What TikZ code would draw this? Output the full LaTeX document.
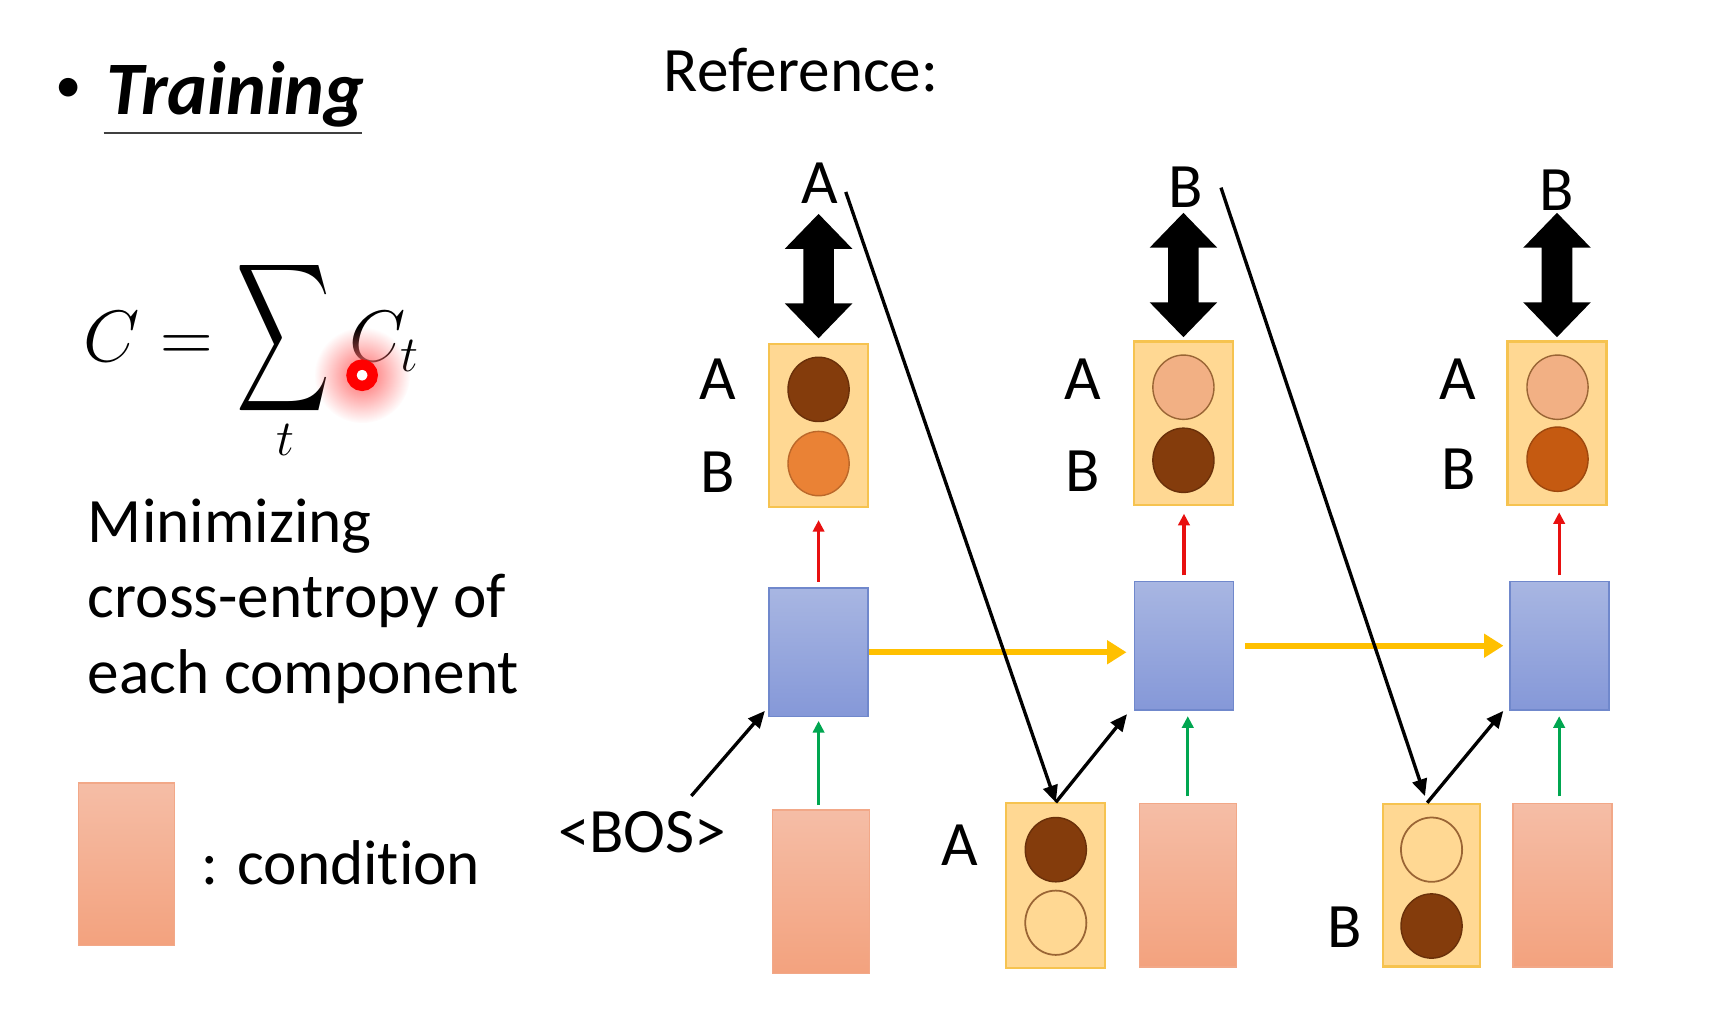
\documentclass[tikz,border=0pt]{standalone}
\usepackage{fontspec}
\setmainfont{Carlito}[Ligatures=NoCommon]
\usepackage{graphicx}
\usetikzlibrary{arrows.meta,calc,shapes.geometric,fadings}

\definecolor{boxY}{HTML}{FFD893}
\definecolor{boxYedge}{HTML}{F6C350}
\definecolor{blueT}{HTML}{A8B6E2}
\definecolor{blueB}{HTML}{8598D8}
\definecolor{blueEdge}{HTML}{7088CC}
\definecolor{pinkT}{HTML}{F5BDA6}
\definecolor{pinkB}{HTML}{F3A27E}
\definecolor{pinkEdge}{HTML}{F2A888}
\definecolor{darkbrown}{HTML}{843C0C}
\definecolor{orangeC}{HTML}{EA8235}
\definecolor{lightC}{HTML}{F2B084}
\definecolor{midC}{HTML}{C55A11}
\definecolor{circEdge}{HTML}{9A6535}
\definecolor{arrowY}{HTML}{FFC000}
\definecolor{arrowR}{HTML}{E81010}
\definecolor{arrowG}{HTML}{00A650}

\tikzfading[name=glowfade, inner color=transparent!0, outer color=transparent!100]

\newcommand\bigdarrow[1]{%
  \fill[black] (#1) -- ++(-31,-32) -- ++(17,0) -- ++(0,-50) -- ++(-17,0)
    -- ++(31,-32) -- ++(31,32) -- ++(-17,0) -- ++(0,50) -- ++(17,0) -- cycle;}

\begin{document}
\begin{tikzpicture}[x=0.010905cm,y=-0.010905cm,
  txt/.style={font=\fontsize{18}{22}\selectfont, inner sep=0pt},
  mth/.style={font=\fontsize{20.5}{24}\selectfont, inner sep=0pt},
  outbox/.style={draw=boxYedge, fill=boxY, line width=0.6pt, minimum width=28.2pt, minimum height=46.5pt, inner sep=0pt},
  rnn/.style={draw=blueEdge, top color=blueT, bottom color=blueB, line width=0.5pt, minimum width=28.2pt, minimum height=36.6pt, inner sep=0pt},
  cond/.style={draw=pinkEdge, top color=pinkT, bottom color=pinkB, line width=0.4pt, minimum width=27.6pt, minimum height=46.5pt, inner sep=0pt},
  ball/.style={ellipse, minimum width=17.4pt, minimum height=18.3pt, inner sep=0pt, line width=0.4pt},
  emptyball/.style={ball, draw=circEdge, line width=0.5pt},
  blkarrow/.style={draw=black, line width=0.95pt, -{Triangle[length=4.8pt,width=4.2pt]}},
  yarrow/.style={draw=arrowY, line width=1.8pt, -{Triangle[length=5.5pt,width=6.5pt]}},
  rarrow/.style={draw=arrowR, line width=0.95pt, -{Triangle[length=3.3pt,width=3.2pt]}},
  garrow/.style={draw=arrowG, line width=0.95pt, -{Triangle[length=3.3pt,width=3.2pt]}}
]
\useasboundingbox[fill=white] (0,0) rectangle (1567.8,948.0);

% ---------- left column text ----------
\node[txt, font=\fontsize{15}{18}\selectfont] (bul) at (63,83) {•};
\node[anchor=base west, inner sep=0pt, font=\fontsize{21.5}{24}\selectfont\bfseries\itshape] (trn) at (97,105) {Training};
\draw[line width=0.8pt, draw=black!75] ($(trn.base west)+(-2,17)$) -- ($(trn.base east)+(-3,17)$);

\node[txt, anchor=base west] (ref) at (608,84) {Reference:};

% formula
\node[mth, anchor=base] (fC) at (102,331) {$C$};
\node[mth, anchor=base] (feq) at (171,331) {$=$};
\node[inner sep=0pt] (fsum) at (260,310) {\scalebox{1.85}[2.95]{$\displaystyle\sum$}};
\node[mth, anchor=base, font=\fontsize{15}{18}\selectfont] (ft) at (262,418) {$t$};
\node[mth, anchor=base west] (fCt) at (320,331) {$C_t$};
% pointer dot
\coordinate (rd) at (332,344);
\fill[red!60, path fading=glowfade] (rd) circle (44);
\fill[white] (rd) circle (5);
\draw[red, line width=2.9pt] (rd) circle (9.8);

\node[txt, anchor=base west] (m1) at (80,497) {Minimizing};
\node[txt, anchor=base west] (m2) at (80,566) {cross-entropy of};
\node[txt, anchor=base west] (m3) at (80,636) {each component};

\node[cond, minimum width=27.3pt, minimum height=46.3pt] (leg) at (116,792.5) {};
\node[txt, anchor=base west] (legt) at (184,811) {: condition};

\node[txt, anchor=base west] (bos) at (511,782) {<BOS>};

% ---------- column 1 ----------
\node[outbox] (o1) at (750.5,390) {};
\node[ball, fill=darkbrown, draw=darkbrown!80!black] (o1a) at (750.5,357) {};
\node[ball, fill=orangeC, draw=orangeC!80!black] (o1b) at (750.5,425) {};
\node[txt] (l1a) at (658,348) {A};
\node[txt] (l1b) at (658,433) {B};
\node[txt] (ta1) at (752,168) {A};
\node[rnn] (bl1) at (750.5,598) {};
\node[cond] (pk1) at (752.5,817.5) {};

% ---------- column 2 ----------
\node[outbox] (o2) at (1085,388) {};
\node[ball, fill=lightC, draw=circEdge] (o2a) at (1085,355) {};
\node[ball, fill=darkbrown, draw=darkbrown!80!black] (o2b) at (1085,422) {};
\node[txt] (l2a) at (993,348) {A};
\node[txt] (l2b) at (993,432) {B};
\node[txt] (ta2) at (1087,172) {B};
\node[rnn] (bl2) at (1085.5,592) {};
\node[cond] (pk2) at (1089,811.5) {};
\node[outbox, minimum height=46.8pt] (in2) at (968,812) {};
\node[ball, fill=darkbrown, draw=darkbrown!80!black] (in2a) at (968,779) {};
\node[emptyball] (in2b) at (968,846) {};
\node[txt] (li2) at (880,775) {A};

% ---------- column 3 ----------
\node[outbox] (o3) at (1427.5,388) {};
\node[ball, fill=lightC, draw=circEdge] (o3a) at (1428,355) {};
\node[ball, fill=midC, draw=midC!80!black] (o3b) at (1428,421) {};
\node[txt] (l3a) at (1337,348) {A};
\node[txt] (l3b) at (1337,430) {B};
\node[txt] (ta3) at (1427,174) {B};
\node[rnn] (bl3) at (1429.5,592) {};
\node[cond, minimum width=28.2pt] (pk3) at (1432.5,811.5) {};
\node[outbox, minimum width=27.6pt, minimum height=46.3pt] (in3) at (1312.5,811.5) {};
\node[emptyball] (in3a) at (1312.5,779) {};
\node[ball, fill=darkbrown, draw=darkbrown!80!black] (in3b) at (1312.5,849) {};
\node[txt] (li3) at (1233,850) {B};

% ---------- big double arrows ----------
\bigdarrow{$(o1.north)+(0,-4)$}
\bigdarrow{$(o2.north)+(0,-3)$}
\bigdarrow{$(o3.north)+(0,-3)$}

% ---------- connectors ----------
\draw[rarrow, shorten <=1.5pt, shorten >=3.4pt] (bl1.north) -- (bl1.north |- o1.south);
\draw[rarrow, shorten <=1.5pt, shorten >=2.2pt] (bl2.north) -- (bl2.north |- o2.south);
\draw[rarrow, shorten <=1.5pt, shorten >=1.8pt] (bl3.north) -- (bl3.north |- o3.south);

\draw[garrow, shorten <=1.2pt, shorten >=1pt] (pk1.north -| bl1.south) -- (bl1.south);
\draw[garrow, shorten <=1.8pt, shorten >=1.5pt] (pk2.north) -- (pk2.north |- bl2.south);
\draw[garrow, shorten <=1.8pt, shorten >=1.5pt] (pk3.north -| bl3.south) -- (bl3.south);

\draw[yarrow, shorten >=2pt] (bl1.east) -- (bl1.east -| bl2.west);
\draw[yarrow, shorten <=3pt, shorten >=1.5pt] (bl2.east) -- (bl2.east -| bl3.west);

\draw[blkarrow] ($(ta1.east)+(6,8)$) -- (in2.north);
\draw[blkarrow, shorten >=2pt] ($(ta2.east)+(16,0)$) -- ($(in3.north)+(-4,0)$);
\draw[blkarrow] (in2.north) -- ($(bl2.south west)+(-6,3)$);
\draw[blkarrow] ($(in3.north)+(-4,0)$) -- ($(bl3.south west)+(-5,0)$);
\draw[blkarrow] ($(bos.north)+(45,-14)$) -- ($(bl1.south west)+(-3,-6)$);

\end{tikzpicture}
\end{document}
